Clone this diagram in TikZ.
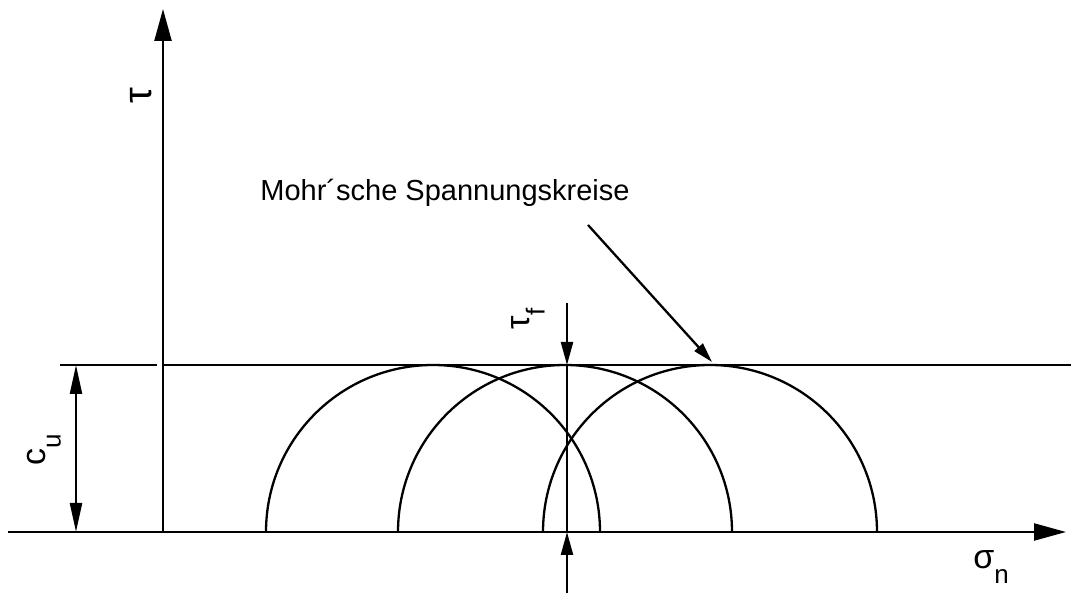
\documentclass[tikz,border=0pt]{standalone}
\usepackage{fontspec}
\setmainfont{Liberation Sans}
\usepackage{tikz}
\usetikzlibrary{arrows.meta,positioning}
\newcommand{\lowidx}[1]{\raisebox{-0.45em}{\fontsize{26}{30}\selectfont #1}}

\begin{document}
\begin{tikzpicture}[
  x=1pt, y=1pt,
  line/.style={line width=2.3pt},
  axis/.style={line width=2.3pt, -{Triangle[length=32pt, width=17pt]}},
  dim/.style={line width=2.3pt, {Triangle[length=29pt, width=12pt]}-{Triangle[length=29pt, width=12pt]}},
  tick/.style={line width=2.3pt, -{Triangle[length=23pt, width=12pt]}},
  lbl/.style={inner sep=0pt, font=\fontsize{29}{34}\selectfont},
  sym/.style={inner sep=0pt, font=\fontsize{34}{40}\selectfont}
]
\useasboundingbox (0,0) rectangle (1071,593);
% axes
\coordinate (o) at (163,61);
\coordinate (tautip) at (163,584);
\coordinate (sleft) at (8,61);
\coordinate (stip) at (1066,61);
\draw[axis] (o) -- (tautip);
\draw[axis] (sleft) -- (stip);
% limit line tau = c_u
\coordinate (cl) at (60,228);
\coordinate (cg) at (157,228);
\coordinate (ca) at (163,228);
\coordinate (cr) at (1071,228);
\draw[line] (cl) -- (cg);
\draw[line] (ca) -- (cr);
% c_u dimension
\coordinate (cutop) at (76,228);
\coordinate (cubot) at (76,61);
\draw[dim] (cubot) -- (cutop);
% Mohr circles
\draw[line] (600,61) arc (0:180:167);
\draw[line] (732,61) arc (0:180:167);
\draw[line] (877,61) arc (0:180:167);
% tau_f marks
\coordinate (tfa) at (567,290);
\coordinate (tfb) at (567,228);
\coordinate (tfc) at (567,61);
\coordinate (tfd) at (567,0);
\draw[tick] (tfa) -- (tfb);
\draw[line] (tfb) -- (tfc);
\draw[tick] (tfd) -- (tfc);
% labels
\node[sym, rotate=90, font=\fontsize{40}{46}\selectfont] (tau) at (141,497) {τ};
\node[sym, rotate=90] (cu) at (44,143) {c\lowidx{u}};
\node[sym, rotate=90] (tauf) at (528,274) {τ\lowidx{f}};
\node[sym] (sig) at (991,26) {σ\lowidx{n}};
\node[lbl] (mohr) at (445,400) {Mohr´sche Spannungskreise};
\coordinate (mstart) at (588,368);
\coordinate (mtip) at (712,231);
\draw[line, -{Triangle[length=20pt, width=11pt]}] (mstart) -- (mtip);
\end{tikzpicture}
\end{document}
